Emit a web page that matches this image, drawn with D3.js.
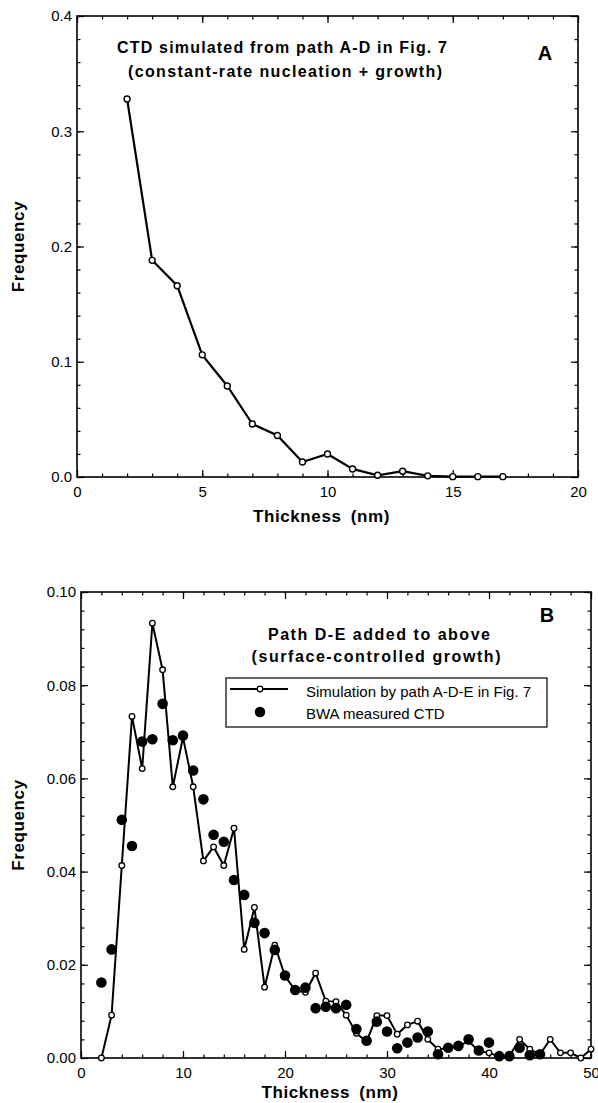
<!DOCTYPE html>
<html>
<head>
<meta charset="utf-8">
<script src="https://cdn.jsdelivr.net/npm/d3@7"></script>
<style>
  body { margin: 0; background: #fff; }
  svg text { font-family: "Liberation Sans", Arial, Helvetica, sans-serif; fill: #000; }
  .tick text { font-size: 15px; }
  .ttl { font-size: 16px; font-weight: bold; }
  .axlab { font-size: 17px; font-weight: bold; letter-spacing: 0.6px; word-spacing: 4px; }
</style>
</head>
<body>
<div id="chart"></div>
<script>
// panel A : simulated CTD, path A-D
let thickA = [2, 3, 4, 5, 6, 7, 8, 9, 10, 11, 12, 13, 14, 15, 16, 17];
let freqA = [0.328, 0.188, 0.166, 0.106, 0.079, 0.046, 0.036, 0.013, 0.020, 0.007, 0.0015, 0.005, 0.001, 0.0003, 0.0003, 0.0003];

// panel B : simulation by path A-D-E (open) and BWA measured (filled)
let thickSim = [2, 3, 4, 5, 6, 7, 8, 9, 10, 11, 12, 13, 14, 15, 16, 17, 18, 19, 20, 21, 22, 23, 24, 25, 26,
  27, 28, 29, 30, 31, 32, 33, 34, 35, 36, 37, 38, 39, 40, 41, 42, 43, 44, 45, 46, 47, 48, 49, 50];
let freqSim = [0.0, 0.0092, 0.0413, 0.0733, 0.0621, 0.0933, 0.0833, 0.0582, 0.0688, 0.0582, 0.0423, 0.0453,
  0.0413, 0.0493, 0.0233, 0.0323, 0.0152, 0.0242, 0.0176, 0.0145, 0.0141, 0.0182, 0.0122, 0.0121, 0.0092,
  0.0053, 0.0035, 0.0091, 0.0091, 0.0051, 0.0071, 0.0079, 0.0040, 0.0019, 0.0021, 0.0025, 0.0036, 0.0015,
  0.0011, 0.0003, 0.0004, 0.0040, 0.0019, 0.0008, 0.0040, 0.0011, 0.0011, 0.0, 0.0019];
let thickBWA = [2, 3, 4, 5, 6, 7, 8, 9, 10, 11, 12, 13, 14, 15, 16, 17, 18, 19, 20, 21, 22, 23, 24, 25, 26,
  27, 28, 29, 30, 31, 32, 33, 34, 35, 36, 37, 38, 39, 40, 41, 42, 43, 44, 45];
let freqBWA = [0.0162, 0.0233, 0.0511, 0.0455, 0.0679, 0.0684, 0.0760, 0.0682, 0.0692, 0.0617, 0.0555, 0.0479,
  0.0464, 0.0382, 0.0350, 0.0290, 0.0268, 0.0232, 0.0177, 0.0146, 0.0151, 0.0107, 0.0110, 0.0107, 0.0114,
  0.0062, 0.0037, 0.0078, 0.0057, 0.0021, 0.0033, 0.0044, 0.0057, 0.0008, 0.0022, 0.0026, 0.0040, 0.0016,
  0.0033, 0.0004, 0.0004, 0.0022, 0.0006, 0.0008];

let titleA = ["CTD simulated from path A-D in Fig. 7", "(constant-rate nucleation + growth)"];
let titleB = ["Path D-E added to above", "(surface-controlled growth)"];
let legendLabels = ["Simulation by path A-D-E in Fig. 7", "BWA measured CTD"];

let W = 598, H = 1103;
let svg = d3.select("#chart").append("svg").attr("width", W).attr("height", H);

function drawFrame(g, x, y, o) {
  let [x0, x1] = x.range();
  let [y0, y1] = y.range();
  // minor ticks first, then majors with labels
  g.append("g").attr("transform", "translate(0," + y0 + ")")
    .call(d3.axisBottom(x).tickValues(o.xMinor).tickSize(-3.5).tickFormat(""));
  g.append("g").attr("transform", "translate(0," + y1 + ")")
    .call(d3.axisTop(x).tickValues(o.xMinor).tickSize(-3.5).tickFormat(""));
  g.append("g").attr("transform", "translate(" + x0 + ",0)")
    .call(d3.axisLeft(y).tickValues(o.yMinor).tickSize(-3.5).tickFormat(""));
  g.append("g").attr("transform", "translate(" + x1 + ",0)")
    .call(d3.axisRight(y).tickValues(o.yMinor).tickSize(-3.5).tickFormat(""));

  g.append("g").attr("transform", "translate(0," + y0 + ")")
    .call(d3.axisBottom(x).tickValues(o.xMajor).tickSize(-7).tickPadding(9).tickFormat(d3.format("d")));
  g.append("g").attr("transform", "translate(0," + y1 + ")")
    .call(d3.axisTop(x).tickValues(o.xMajor).tickSize(-7).tickFormat(""));
  g.append("g").attr("transform", "translate(" + x0 + ",0)")
    .call(d3.axisLeft(y).tickValues(o.yMajor).tickSize(-7).tickPadding(5).tickFormat(d3.format(o.yFmt)));
  g.append("g").attr("transform", "translate(" + x1 + ",0)")
    .call(d3.axisRight(y).tickValues(o.yMajor).tickSize(-7).tickFormat(""));

  g.selectAll(".domain").remove();
  g.selectAll(".tick line").attr("stroke", "#000").attr("stroke-width", 1.2);
  g.selectAll(".tick text").attr("fill", "#000");

  g.append("rect")
    .attr("x", x0).attr("y", y1)
    .attr("width", x1 - x0).attr("height", y0 - y1)
    .attr("fill", "none").attr("stroke", "#000").attr("stroke-width", 1.6);

  g.append("text").attr("class", "axlab")
    .attr("x", (x0 + x1) / 2 - 6).attr("y", y0 + o.xLabDy)
    .attr("text-anchor", "middle").text("Thickness (nm)");
  g.append("text").attr("class", "axlab")
    .attr("transform", "translate(24," + (y0 + y1) / 2 + ")rotate(-90)")
    .attr("text-anchor", "middle").text("Frequency");
}

function drawTitle(g, lines, cx, y0, dy, widths) {
  g.selectAll("text.ttl").data(lines).enter().append("text").attr("class", "ttl")
    .attr("x", (d, i) => cx[i] - widths[i] / 2)
    .attr("y", (d, i) => y0 + i * dy)
    .attr("textLength", (d, i) => widths[i])
    .attr("lengthAdjust", "spacing")
    .text(d => d);
}

// ---------- panel A ----------
let gA = svg.append("g");
let xA = d3.scaleLinear().domain([0, 20]).range([77, 578]);
let yA = d3.scaleLinear().domain([0, 0.4]).range([477, 16]);
drawFrame(gA, xA, yA, {
  xMajor: [0, 5, 10, 15, 20], xMinor: d3.range(0, 21, 1),
  yMajor: [0, 0.1, 0.2, 0.3, 0.4], yMinor: d3.range(0, 0.401, 0.02),
  yFmt: ".1f", xLabDy: 45
});

let lineA = d3.line().x(d => xA(d[0])).y(d => yA(d[1]));
let ptsA = thickA.map((t, i) => [t, freqA[i]]);
gA.append("path").datum(ptsA).attr("d", lineA)
  .attr("fill", "none").attr("stroke", "#000").attr("stroke-width", 2.2);
gA.selectAll("circle.a").data(ptsA).enter().append("circle")
  .attr("cx", d => xA(d[0])).attr("cy", d => yA(d[1])).attr("r", 3)
  .attr("fill", "#fff").attr("stroke", "#000").attr("stroke-width", 1.4);

drawTitle(gA, titleA, [282, 285], 53, 24, [330, 314]);
gA.append("text").attr("x", 545).attr("y", 60).attr("text-anchor", "middle")
  .attr("font-size", 20).attr("font-weight", "bold").text("A");

// ---------- panel B ----------
let gB = svg.append("g");
let xB = d3.scaleLinear().domain([0, 50]).range([81, 591]);
let yB = d3.scaleLinear().domain([0, 0.1]).range([1058, 592]);
drawFrame(gB, xB, yB, {
  xMajor: [0, 10, 20, 30, 40, 50], xMinor: d3.range(0, 51, 2),
  yMajor: [0, 0.02, 0.04, 0.06, 0.08, 0.1], yMinor: d3.range(0, 0.1001, 0.004),
  yFmt: ".2f", xLabDy: 40
});

let ptsSim = thickSim.map((t, i) => [t, freqSim[i]]);
let ptsBWA = thickBWA.map((t, i) => [t, freqBWA[i]]);
let lineB = d3.line().x(d => xB(d[0])).y(d => yB(d[1]));
gB.append("path").datum(ptsSim).attr("d", lineB)
  .attr("fill", "none").attr("stroke", "#000").attr("stroke-width", 2);
gB.selectAll("circle.sim").data(ptsSim).enter().append("circle")
  .attr("cx", d => xB(d[0])).attr("cy", d => yB(d[1])).attr("r", 2.8)
  .attr("fill", "#fff").attr("stroke", "#000").attr("stroke-width", 1.3);
gB.selectAll("circle.bwa").data(ptsBWA).enter().append("circle")
  .attr("cx", d => xB(d[0])).attr("cy", d => yB(d[1])).attr("r", 5.3)
  .attr("fill", "#000");

drawTitle(gB, titleB, [379, 376], 640, 22, [222, 249]);
gB.append("text").attr("x", 547).attr("y", 622).attr("text-anchor", "middle")
  .attr("font-size", 20).attr("font-weight", "bold").text("B");

// legend
let leg = gB.append("g");
leg.append("rect").attr("x", 226).attr("y", 678).attr("width", 321).attr("height", 49)
  .attr("fill", "#fff").attr("stroke", "#000").attr("stroke-width", 1.2);
leg.append("line").attr("x1", 230).attr("x2", 288).attr("y1", 689).attr("y2", 689)
  .attr("stroke", "#000").attr("stroke-width", 2);
leg.append("circle").attr("cx", 260).attr("cy", 689).attr("r", 2.8)
  .attr("fill", "#fff").attr("stroke", "#000").attr("stroke-width", 1.3);
leg.append("circle").attr("cx", 260).attr("cy", 712).attr("r", 5.3).attr("fill", "#000");
leg.selectAll("text").data(legendLabels).enter().append("text")
  .attr("x", 306).attr("y", (d, i) => 697 + i * 22).attr("font-size", 15).text(d => d);
</script>
</body>
</html>
